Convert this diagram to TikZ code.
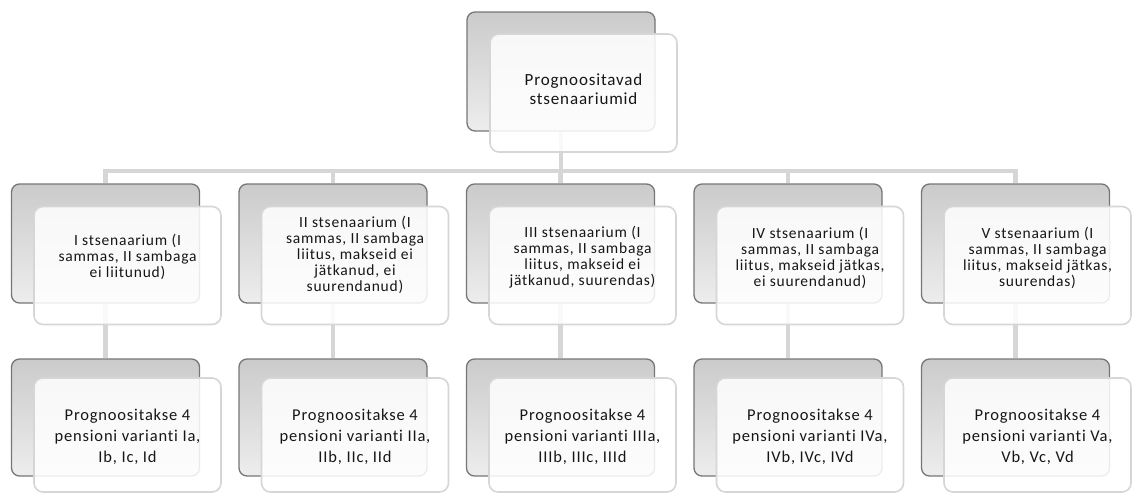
\documentclass[tikz,border=0pt]{standalone}
\usepackage{fontspec}
\setmainfont{Carlito}[LetterSpace=5.0, Ligatures={NoCommon}]
\usetikzlibrary{calc}

\definecolor{connc}{HTML}{D6D6D6}
\definecolor{backline}{HTML}{767676}
\definecolor{backtop}{HTML}{CBCBCB}
\definecolor{backbot}{HTML}{EDEDED}
\definecolor{frontline}{HTML}{D6D6D6}
\definecolor{txt}{HTML}{161616}

\pgfdeclarelayer{background}
\pgfsetlayers{background,main}

\tikzset{
  backbox/.style={rectangle, rounded corners=8pt, minimum width=188pt,
    minimum height=119pt, inner sep=0pt, draw=backline, line width=1.3pt,
    top color=backtop, bottom color=backbot},
  frontbox/.style={rectangle, rounded corners=9pt, minimum width=187pt,
    minimum height=118pt, inner sep=0pt, draw=frontline, line width=1.6pt,
    fill=white, fill opacity=0.86},
  conn/.style={draw=connc, line width=4.5pt},
  lbl/.style={align=center, text=txt, inner sep=0pt},
  topfont/.style={font=\fontsize{17}{19.5}\selectfont},
  midfont/.style={font=\fontsize{15.5}{16}\selectfont},
  lowfont/.style={font=\fontsize{16.5}{21}\selectfont},
}

\begin{document}
\begin{tikzpicture}[x=1pt, y=-1pt]
\useasboundingbox (0,0) rectangle (1132,493);

% ---- back boxes ----
\node[backbox] (b0) at (561,71.5) {};
\foreach \i/\x in {1/105.5, 2/333, 3/560.5, 4/788, 5/1015.5} {
  \node[backbox] (b\i) at (\x,243.5) {};
  \node[backbox, minimum height=117pt] (c\i) at (\x,417.5) {};
}

% ---- connectors, kept behind the boxes ----
\coordinate (bus) at (0,171);
\begin{pgfonlayer}{background}
\foreach \i in {1,...,5} {
  \draw[conn] (b0.south) |- (bus -| b\i.north) -- (b\i.north);
  \draw[conn] (b\i.south) -- (c\i.north);
}
\end{pgfonlayer}

% ---- front boxes ----
\node[frontbox] (f0) at ($(b0)+(22.5,21.5)$) {};
\foreach \i in {1,...,5} {
  \node[frontbox] (f\i) at ($(b\i)+(22,22)$) {};
  \node[frontbox, minimum height=114pt] (g\i) at ($(c\i)+(22,17.5)$) {};
}

% ---- texts ----
\node[lbl, topfont] (t0) at ($(f0)+(0,-4)$) {Prognoositavad\\stsenaariumid};

\node[lbl, midfont] (t1) at ($(f1)+(0,-9)$)
  {I stsenaarium (I\\sammas, II sambaga\\ei liitunud)};
\node[lbl, midfont] (t2) at ($(f2)+(0,-11)$)
  {II stsenaarium (I\\sammas, II sambaga\\liitus, makseid ei\\jätkanud, ei\\suurendanud)};
\node[lbl, midfont] (t3) at ($(f3)+(0,-8)$)
  {III stsenaarium (I\\sammas, II sambaga\\liitus, makseid ei\\jätkanud, suurendas)};
\node[lbl, midfont] (t4) at ($(f4)+(0,-8)$)
  {IV stsenaarium (I\\sammas, II sambaga\\liitus, makseid jätkas,\\ei suurendanud)};
\node[lbl, midfont] (t5) at ($(f5)+(0,-8)$)
  {V stsenaarium (I\\sammas, II sambaga\\liitus, makseid jätkas,\\suurendas)};

\node[lbl, lowfont] (u1) at ($(g1)+(0,2)$) {Prognoositakse 4\\pensioni varianti Ia,\\Ib, Ic, Id};
\node[lbl, lowfont] (u2) at ($(g2)+(0,2)$) {Prognoositakse 4\\pensioni varianti IIa,\\IIb, IIc, IId};
\node[lbl, lowfont] (u3) at ($(g3)+(0,2)$) {Prognoositakse 4\\pensioni varianti IIIa,\\IIIb, IIIc, IIId};
\node[lbl, lowfont] (u4) at ($(g4)+(0,2)$) {Prognoositakse 4\\pensioni varianti IVa,\\IVb, IVc, IVd};
\node[lbl, lowfont] (u5) at ($(g5)+(0,2)$) {Prognoositakse 4\\pensioni varianti Va,\\Vb, Vc, Vd};
\end{tikzpicture}
\end{document}
